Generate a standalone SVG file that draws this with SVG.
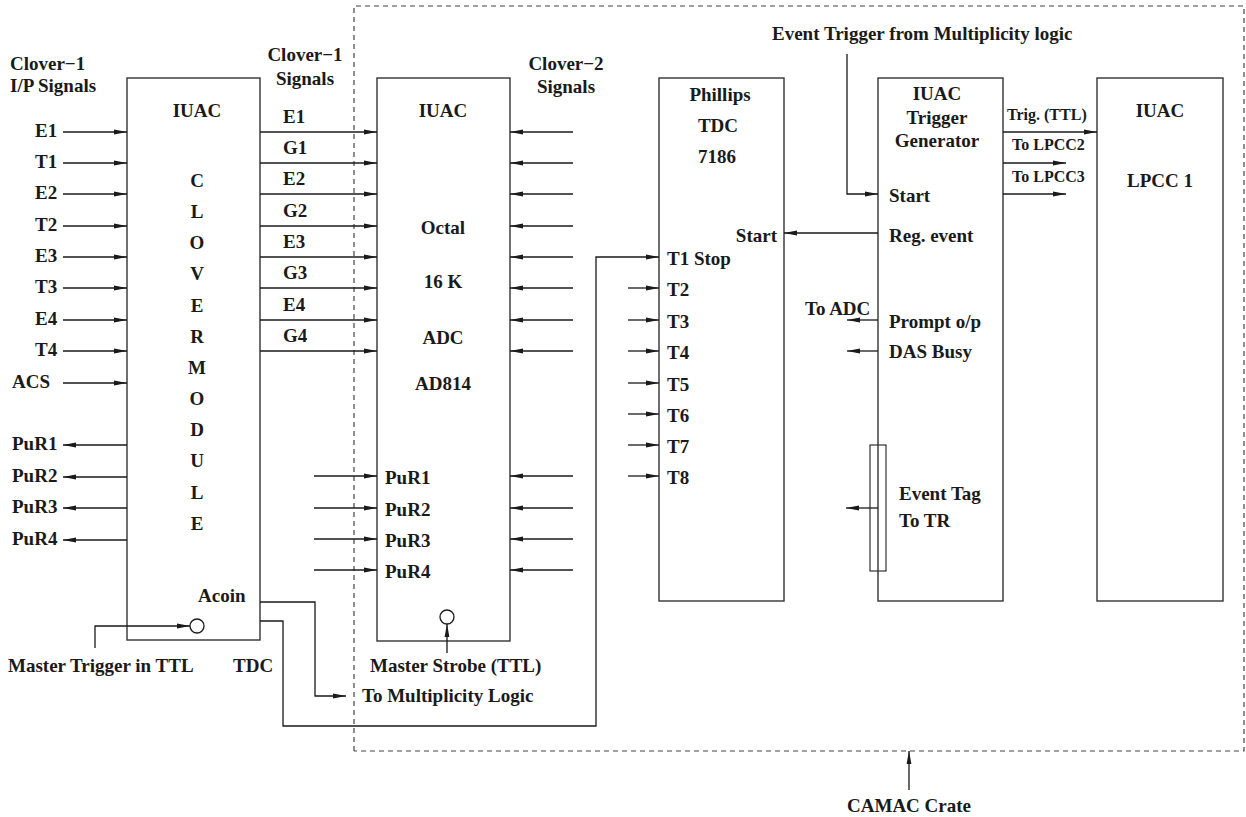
<svg xmlns="http://www.w3.org/2000/svg" width="1246" height="817" viewBox="0 0 1246 817">
<defs>
<marker id="ah" markerWidth="13" markerHeight="6" refX="13" refY="3" orient="auto" markerUnits="userSpaceOnUse">
<path d="M0,0.6 L13,3 L0,5.4 Z" fill="#1a1a1a"/>
</marker>
</defs>
<style>
text{font-family:"Liberation Serif","Times New Roman",serif;font-weight:bold;font-size:19px;fill:#1a1a1a}
.s{font-size:16px}
.m{text-anchor:middle}
.e{text-anchor:end}
.box{fill:none;stroke:#333;stroke-width:1.4}
.w{fill:none;stroke:#1a1a1a;stroke-width:1.3}
.a{fill:none;stroke:#1a1a1a;stroke-width:1.3;marker-end:url(#ah)}
.d{fill:none;stroke:#444;stroke-width:1.2;stroke-dasharray:5,4}
</style>
<rect width="1246" height="817" fill="#fff"/>

<g id="camac">
<path class="d" d="M354,751 V6 H1244 V751 H354"/>
<text class="m" x="909" y="812">CAMAC Crate</text>
</g>

<g id="clover-module">
<rect class="box" x="127" y="78" width="133" height="562"/>
<text x="10" y="70">Clover−1</text>
<text x="10" y="92">I/P Signals</text>
<text class="m" x="197" y="117">IUAC</text>
<text class="m" x="197" y="187">C</text>
<text class="m" x="197" y="218">L</text>
<text class="m" x="197" y="249">O</text>
<text class="m" x="197" y="280">V</text>
<text class="m" x="197" y="312">E</text>
<text class="m" x="197" y="343">R</text>
<text class="m" x="197" y="374">M</text>
<text class="m" x="197" y="405">O</text>
<text class="m" x="197" y="436">D</text>
<text class="m" x="197" y="467">U</text>
<text class="m" x="197" y="499">L</text>
<text class="m" x="197" y="530">E</text>
<text x="198" y="602">Acoin</text>
<circle class="w" cx="197" cy="626" r="7"/>
<text x="35" y="137">E1</text>
<text x="35" y="168">T1</text>
<text x="35" y="199">E2</text>
<text x="35" y="231">T2</text>
<text x="35" y="262">E3</text>
<text x="35" y="293">T3</text>
<text x="35" y="325">E4</text>
<text x="35" y="356">T4</text>
<text x="12" y="388">ACS</text>
<text x="12" y="450">PuR1</text>
<text x="12" y="482">PuR2</text>
<text x="12" y="513">PuR3</text>
<text x="12" y="545">PuR4</text>
<text x="8" y="672">Master Trigger in TTL</text>
<text x="233" y="672">TDC</text>
</g>

<g id="adc">
<rect class="box" x="377" y="78" width="133" height="563"/>
<text class="m" x="305" y="61">Clover−1</text>
<text class="m" x="305" y="85">Signals</text>
<text class="m" x="566" y="70">Clover−2</text>
<text class="m" x="566" y="93">Signals</text>
<text class="m" x="443" y="117">IUAC</text>
<text class="m" x="443" y="234">Octal</text>
<text class="m" x="443" y="288">16 K</text>
<text class="m" x="443" y="344">ADC</text>
<text class="m" x="443" y="390">AD814</text>
<text x="283" y="123">E1</text>
<text x="283" y="154">G1</text>
<text x="283" y="185">E2</text>
<text x="283" y="217">G2</text>
<text x="283" y="248">E3</text>
<text x="283" y="279">G3</text>
<text x="283" y="311">E4</text>
<text x="283" y="342">G4</text>
<text x="385" y="484">PuR1</text>
<text x="385" y="516">PuR2</text>
<text x="385" y="547">PuR3</text>
<text x="385" y="578">PuR4</text>
<circle class="w" cx="447" cy="617" r="7"/>
<text x="370" y="672">Master Strobe (TTL)</text>
<text x="362" y="702">To Multiplicity Logic</text>
</g>

<g id="tdc">
<rect class="box" x="659" y="78" width="125" height="523"/>
<text class="m" x="720" y="101">Phillips</text>
<text class="m" x="718" y="132">TDC</text>
<text class="m" x="717" y="163">7186</text>
<text class="e" x="777" y="242">Start</text>
<text x="667" y="265">T1 Stop</text>
<text x="667" y="296">T2</text>
<text x="667" y="328">T3</text>
<text x="667" y="359">T4</text>
<text x="667" y="391">T5</text>
<text x="667" y="422">T6</text>
<text x="667" y="453">T7</text>
<text x="667" y="484">T8</text>
</g>

<g id="trigger">
<rect class="box" x="878" y="78" width="125" height="523"/>
<rect class="box" x="870" y="445" width="16" height="126" style="stroke-width:1.2"/>
<text x="772" y="40">Event Trigger from Multiplicity logic</text>
<text class="m" x="937" y="100">IUAC</text>
<text class="m" x="937" y="124">Trigger</text>
<text class="m" x="937" y="147">Generator</text>
<text x="889" y="202">Start</text>
<text x="889" y="242">Reg. event</text>
<text x="805" y="315">To ADC</text>
<text x="889" y="328">Prompt o/p</text>
<text x="889" y="358">DAS Busy</text>
<text x="899" y="500">Event Tag</text>
<text x="899" y="527">To TR</text>
<text class="s" x="1007" y="120">Trig. (TTL)</text>
<text class="s" x="1012" y="150">To LPCC2</text>
<text class="s" x="1012" y="182">To LPCC3</text>
</g>

<g id="lpcc">
<rect class="box" x="1097" y="78" width="126" height="523"/>
<text class="m" x="1160" y="117">IUAC</text>
<text class="m" x="1160" y="187">LPCC 1</text>
</g>

<g id="connectors">
<path class="a" d="M63,132 H127"/>
<path class="a" d="M63,163 H127"/>
<path class="a" d="M63,194 H127"/>
<path class="a" d="M63,226 H127"/>
<path class="a" d="M63,257 H127"/>
<path class="a" d="M63,288 H127"/>
<path class="a" d="M63,320 H127"/>
<path class="a" d="M63,351 H127"/>
<path class="a" d="M63,383 H127"/>
<path class="a" d="M127,445 H63"/>
<path class="a" d="M127,477 H63"/>
<path class="a" d="M127,508 H63"/>
<path class="a" d="M127,540 H63"/>
<path class="a" d="M95,648 V626 H190"/>

<path class="a" d="M260,132 H377"/>
<path class="a" d="M260,163 H377"/>
<path class="a" d="M260,194 H377"/>
<path class="a" d="M260,226 H377"/>
<path class="a" d="M260,257 H377"/>
<path class="a" d="M260,288 H377"/>
<path class="a" d="M260,320 H377"/>
<path class="a" d="M260,351 H377"/>

<path class="a" d="M573,132 H510"/>
<path class="a" d="M573,163 H510"/>
<path class="a" d="M573,194 H510"/>
<path class="a" d="M573,226 H510"/>
<path class="a" d="M573,257 H510"/>
<path class="a" d="M573,288 H510"/>
<path class="a" d="M573,320 H510"/>
<path class="a" d="M573,351 H510"/>

<path class="a" d="M314,476 H377"/>
<path class="a" d="M314,508 H377"/>
<path class="a" d="M314,539 H377"/>
<path class="a" d="M314,570 H377"/>
<path class="a" d="M573,476 H510"/>
<path class="a" d="M573,508 H510"/>
<path class="a" d="M573,539 H510"/>
<path class="a" d="M573,570 H510"/>
<path class="a" d="M447,653 V624"/>

<path class="a" d="M260,602 H315 V696 H346"/>
<path class="a" d="M260,621 H283 V726 H596 V257 H659"/>

<path class="a" d="M628,288 H659"/>
<path class="a" d="M628,320 H659"/>
<path class="a" d="M628,351 H659"/>
<path class="a" d="M628,383 H659"/>
<path class="a" d="M628,414 H659"/>
<path class="a" d="M628,445 H659"/>
<path class="a" d="M628,476 H659"/>

<path class="a" d="M847,54 V194 H878"/>
<path class="a" d="M878,233 H784"/>
<path class="a" d="M878,320 H847"/>
<path class="a" d="M878,351 H847"/>
<path class="a" d="M878,508 H846"/>
<path class="a" d="M1003,132 H1097"/>
<path class="a" d="M1003,163 H1066"/>
<path class="a" d="M1003,194 H1066"/>

<path class="a" d="M909,790 V751"/>
</g>
</svg>
